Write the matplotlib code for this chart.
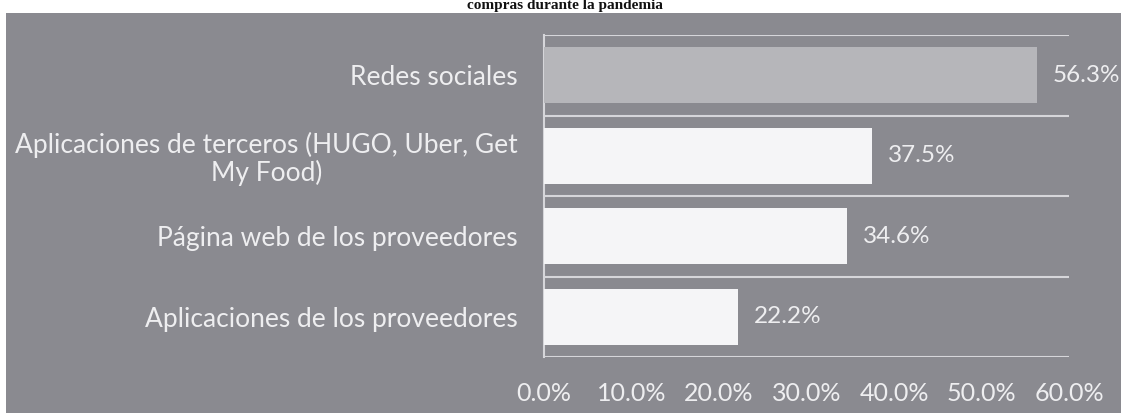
import matplotlib
matplotlib.use('Agg')
from matplotlib import pyplot as plt
from matplotlib.patches import Rectangle
from matplotlib.ticker import FuncFormatter

categories = ['Redes sociales',
              'Aplicaciones de terceros (HUGO, Uber, Get\nMy Food)',
              'Página web de los proveedores',
              'Aplicaciones de los proveedores']
values = [56.3, 37.5, 34.6, 22.2]
bar_colors = ['#b6b6ba', '#f5f5f7', '#f5f5f7', '#f5f5f7']
x_ticks = [0, 10, 20, 30, 40, 50, 60]
title = 'compras durante la pandemia'

bg = '#8a8a90'
fg = '#eeeef0'
line_c = '#d6d6da'

plt.rcParams['font.family'] = ['Lato', 'DejaVu Sans']

W, H = 1121, 413
fig = plt.figure(figsize=(W / 100, H / 100), dpi=100, facecolor='white')
# gray panel (scanned page background)
fig.patches.append(Rectangle((6 / W, 0), 1 - 6 / W, 1 - 13 / H,
                             transform=fig.transFigure, facecolor=bg,
                             edgecolor='none', zorder=-5))
fig.text(565 / W, 1 - 9 / H, title, ha='center', va='baseline',
         family='Liberation Serif', fontweight='bold', fontsize=11, color='#111111')

ax = fig.add_axes([544 / W, 1 - 357 / H, (1069 - 544) / W, (357 - 35) / H])
ax.set_facecolor('none')

ypos = list(range(len(categories)))
ax.barh(ypos, values, height=0.69, color=bar_colors, zorder=3)
for y, v in zip(ypos, values):
    ax.text(v + 1.8, y, f'{v:.1f}%', va='center', ha='left', fontsize=17.5, color=fg)

ax.set_xlim(0, 60)
ax.set_ylim(len(categories) - 0.5, -0.5)
ax.set_xticks(x_ticks)
ax.xaxis.set_major_formatter(FuncFormatter(lambda v, _: f'{v:.1f}%'))
ax.set_yticks(ypos)
ax.set_yticklabels(categories, multialignment='center', linespacing=1.1)
ax.set_yticks([y - 0.5 for y in ypos] + [len(categories) - 0.5], minor=True)
ax.grid(True, axis='y', which='minor', color=line_c, linewidth=1.5, zorder=1)
ax.tick_params(axis='y', which='both', length=0, labelsize=19, labelcolor=fg, pad=19)
ax.tick_params(axis='x', length=0, labelsize=18, labelcolor=fg, pad=18)

for s in ['top', 'right', 'bottom']:
    ax.spines[s].set_visible(False)
ax.spines['left'].set_color(line_c)
ax.spines['left'].set_linewidth(1.5)

fig.savefig('out.png', dpi=100, facecolor='white')
